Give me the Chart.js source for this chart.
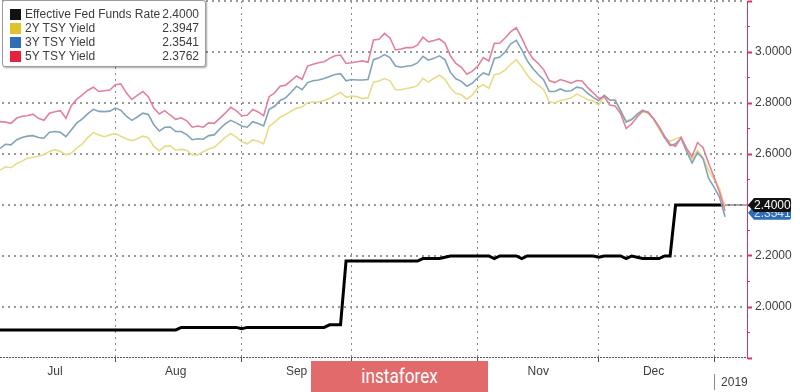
<!DOCTYPE html>
<html>
<head>
<meta charset="utf-8">
<script src="https://cdn.jsdelivr.net/npm/chart.js@4.4.1/dist/chart.umd.min.js"></script>
<style>
  html, body { margin: 0; padding: 0; background: #fff; }
  #wrap { position: relative; width: 800px; height: 392px; overflow: hidden; }
  #chart { position: absolute; left: 0; top: 0; }
  #legend {
    position: absolute; left: 2px; top: 0; width: 202px; padding: 6px 0 3px;
    background: #fff; border: 1px solid #9c9c9c; border-radius: 3px;
    box-shadow: 1px 1px 2px rgba(0,0,0,.35);
    font: 12px "Liberation Sans", Arial, sans-serif; color: #3c3c3c;
  }
  .row { display: flex; align-items: center; height: 14px; padding: 0 6px 0 7px; }
  .sw { width: 11px; height: 11px; margin-right: 4px; }
  .name { flex: 1; white-space: nowrap; }
  #mark {
    position: absolute; left: 311px; top: 361px; width: 177px; height: 31px;
    background: #e26a6a; color: #fff; text-align: center;
    font: 20px Roboto, sans-serif; line-height: 30px;
  }
  #mark span { display: inline-block; transform: scaleX(0.86); }
</style>
</head>
<body>
<div id="wrap">
  <canvas id="chart" width="800" height="392"></canvas>
  <div id="legend"></div>
  <div id="mark"><span>instaforex</span></div>
</div>
<script>
const months = ['Jul', 'Aug', 'Sep', 'Oct', 'Nov', 'Dec'];
const yearLabel = '2019';
const seriesNames = ['Effective Fed Funds Rate', '2Y TSY Yield', '3Y TSY Yield', '5Y TSY Yield'];
const swatchColors = ['#111111', '#e2c22a', '#2f6db5', '#e4233f'];
const lineColors = ['#000000', '#e6dc8a', '#84a2b8', '#e2819b'];
const yMin = 1.8, yMax = 3.2;
const yGridValues = [2.0, 2.2, 2.4, 2.6, 2.8, 3.0, 3.2];
const yLabelled = [2.0, 2.2, 2.4, 2.6, 2.8, 3.0];

// one value per weekday starting 2018-07-03
const fedFunds = [
  1.91, 1.91, 1.91, 1.91, 1.91, 1.91, 1.91, 1.91, 1.91, 1.91,
  1.91, 1.91, 1.91, 1.91, 1.91, 1.91, 1.91, 1.91, 1.91, 1.91,
  1.91, 1.91, 1.91, 1.91, 1.91, 1.91, 1.91, 1.91, 1.91, 1.91,
  1.91, 1.91, 1.91, 1.92, 1.92, 1.92, 1.92, 1.92, 1.92, 1.92,
  1.92, 1.92, 1.92, 1.92, 1.915, 1.92, 1.92, 1.92, 1.92, 1.92,
  1.92, 1.92, 1.92, 1.92, 1.92, 1.92, 1.92, 1.92, 1.92, 1.92,
  1.93, 1.93, 1.93, 2.18, 2.18, 2.18, 2.18, 2.18, 2.18, 2.18,
  2.18, 2.18, 2.18, 2.18, 2.18, 2.18, 2.18, 2.19, 2.19, 2.19,
  2.19, 2.195, 2.20, 2.20, 2.20, 2.20, 2.20, 2.20, 2.20, 2.20,
  2.19, 2.20, 2.20, 2.20, 2.20, 2.19, 2.20, 2.20, 2.20, 2.20,
  2.20, 2.20, 2.20, 2.20, 2.20, 2.20, 2.20, 2.20, 2.20, 2.195,
  2.20, 2.20, 2.20, 2.20, 2.19, 2.20, 2.195, 2.19, 2.19, 2.19,
  2.19, 2.20, 2.20, 2.40, 2.40, 2.40, 2.40, 2.40, 2.40, 2.40,
  2.40, 2.40, 2.40
];
const tsy2y = [
  2.537, 2.550, 2.546, 2.562, 2.572, 2.583, 2.587, 2.591, 2.598, 2.610,
  2.617, 2.610, 2.597, 2.604, 2.624, 2.640, 2.665, 2.684, 2.675, 2.668,
  2.675, 2.680, 2.670, 2.660, 2.652, 2.660, 2.670, 2.664, 2.630, 2.612,
  2.630, 2.632, 2.615, 2.618, 2.615, 2.596, 2.596, 2.609, 2.620, 2.626,
  2.645, 2.665, 2.680, 2.667, 2.648, 2.640, 2.655, 2.650, 2.640, 2.708,
  2.725, 2.744, 2.755, 2.768, 2.780, 2.784, 2.802, 2.804, 2.804, 2.810,
  2.818, 2.830, 2.842, 2.823, 2.827, 2.825, 2.818, 2.820, 2.882, 2.886,
  2.896, 2.887, 2.852, 2.852, 2.857, 2.861, 2.868, 2.897, 2.882, 2.897,
  2.909, 2.893, 2.860, 2.838, 2.832, 2.815, 2.831, 2.860, 2.872, 2.858,
  2.911, 2.916, 2.930, 2.952, 2.970, 2.942, 2.910, 2.885, 2.870, 2.852,
  2.805, 2.800, 2.810, 2.814, 2.820, 2.835, 2.825, 2.813, 2.808, 2.792,
  2.824, 2.812, 2.814, 2.768, 2.730, 2.736, 2.752, 2.767, 2.760, 2.736,
  2.697, 2.662, 2.650, 2.660, 2.666, 2.622, 2.580, 2.614, 2.585, 2.537,
  2.500, 2.464, 2.3947
];
const tsy3y = [
  2.622, 2.638, 2.636, 2.655, 2.665, 2.670, 2.672, 2.665, 2.662, 2.685,
  2.688, 2.685, 2.668, 2.695, 2.722, 2.738, 2.758, 2.775, 2.767, 2.766,
  2.768, 2.780, 2.772, 2.748, 2.732, 2.745, 2.760, 2.755, 2.715, 2.690,
  2.705, 2.706, 2.688, 2.688, 2.676, 2.656, 2.660, 2.658, 2.672, 2.675,
  2.698, 2.718, 2.732, 2.722, 2.710, 2.705, 2.727, 2.720, 2.710, 2.775,
  2.787, 2.810, 2.820, 2.842, 2.866, 2.852, 2.880, 2.887, 2.890, 2.896,
  2.904, 2.912, 2.915, 2.887, 2.892, 2.890, 2.890, 2.892, 2.970, 2.977,
  2.990, 2.978, 2.945, 2.940, 2.944, 2.947, 2.957, 2.983, 2.968, 2.975,
  2.985, 2.970, 2.920, 2.895, 2.885, 2.866, 2.878, 2.900, 2.918, 2.910,
  2.975, 2.980, 3.001, 3.032, 3.046, 3.008, 2.965, 2.935, 2.912, 2.890,
  2.845, 2.845, 2.855, 2.846, 2.848, 2.862, 2.858, 2.838, 2.822, 2.809,
  2.830, 2.812, 2.810, 2.770, 2.725, 2.735, 2.756, 2.772, 2.762, 2.738,
  2.705, 2.664, 2.633, 2.640, 2.662, 2.610, 2.565, 2.605, 2.582, 2.505,
  2.470, 2.430, 2.3541
];
const tsy5y = [
  2.727, 2.725, 2.720, 2.740, 2.748, 2.750, 2.756, 2.740, 2.732, 2.760,
  2.766, 2.770, 2.740, 2.790, 2.815, 2.832, 2.850, 2.862, 2.845, 2.848,
  2.851, 2.872, 2.875, 2.840, 2.814, 2.830, 2.845, 2.825, 2.780, 2.757,
  2.770, 2.752, 2.736, 2.742, 2.730, 2.705, 2.710, 2.705, 2.722, 2.720,
  2.740, 2.760, 2.783, 2.770, 2.750, 2.752, 2.775, 2.765, 2.750, 2.825,
  2.840, 2.866, 2.870, 2.888, 2.906, 2.893, 2.945, 2.952, 2.958, 2.962,
  2.975, 2.985, 2.988, 2.955, 2.958, 2.962, 2.965, 2.960, 3.047, 3.050,
  3.073, 3.055, 3.008, 3.012, 3.017, 3.017, 3.027, 3.058, 3.040, 3.045,
  3.051, 3.035, 2.985, 2.955, 2.940, 2.913, 2.925, 2.945, 2.978, 2.965,
  3.034, 3.035, 3.056, 3.080, 3.095, 3.054, 3.008, 2.975, 2.955, 2.930,
  2.888, 2.880, 2.892, 2.885, 2.878, 2.888, 2.886, 2.860, 2.840, 2.818,
  2.825, 2.792, 2.788, 2.758, 2.700, 2.718, 2.745, 2.768, 2.765, 2.738,
  2.706, 2.670, 2.638, 2.630, 2.665, 2.622, 2.590, 2.645, 2.625, 2.565,
  2.510, 2.450, 2.3762
];
const series = [fedFunds, tsy2y, tsy3y, tsy5y];

// weekday calendar for the x axis, a few days past the data
const days = [];
for (let d = new Date(Date.UTC(2018, 6, 3)); d <= new Date(Date.UTC(2019, 0, 9)); d.setUTCDate(d.getUTCDate() + 1)) {
  const wd = d.getUTCDay();
  if (wd !== 0 && wd !== 6) days.push(d.toISOString().slice(0, 10));
}
const monthStarts = [];
days.forEach((d, i) => { if (i > 0 && d.slice(5, 7) !== days[i - 1].slice(5, 7)) monthStarts.push(i); });
const yearIdx = monthStarts[monthStarts.length - 1];
const monthLabelAt = {};
[0].concat(monthStarts).slice(0, months.length).forEach((s, k) => {
  const e = [0].concat(monthStarts)[k + 1];
  monthLabelAt[Math.floor((s + e) / 2)] = months[k];
});

// legend
const legend = document.getElementById('legend');
seriesNames.forEach((n, k) => {
  const last = series[k][series[k].length - 1];
  legend.insertAdjacentHTML('beforeend',
    `<div class="row"><span class="sw" style="background:${swatchColors[k]}"></span><span class="name">${n}</span><span>${last.toFixed(4)}</span></div>`);
});

const red = '#d8335f';
const dotGray = '#8a8a8a';
const font = { family: '"Liberation Sans", Arial, sans-serif', size: 12 };

// dotted horizontal guides at the major y ticks, drawn as small dots
const hGrid = {
  id: 'hGrid',
  beforeDatasetsDraw(chart) {
    const { ctx, chartArea, scales: { y } } = chart;
    ctx.save();
    ctx.fillStyle = '#999';
    yGridValues.forEach(v => {
      const py = Math.round(y.getPixelForValue(v)) - 1;
      for (let px = chartArea.left + 2; px < chartArea.right - 1; px += 6) {
        ctx.fillRect(px, py, 2, 2);
      }
    });
    const pb = Math.round(y.getPixelForValue(yMin)) - 1;
    ctx.fillStyle = '#555';
    for (let px = chartArea.left; px < chartArea.right; px += 3) {
      ctx.fillRect(px, pb, 2, 1);
    }
    ctx.restore();
  }
};

function drawTag(ctx, x, y, bg, fg, text) {
  ctx.fillStyle = bg;
  ctx.beginPath();
  ctx.moveTo(x + 1, y);
  ctx.lineTo(x + 7, y - 7);
  ctx.lineTo(x + 42, y - 7);
  ctx.quadraticCurveTo(x + 44, y - 7, x + 44, y - 5);
  ctx.lineTo(x + 44, y + 5);
  ctx.quadraticCurveTo(x + 44, y + 7, x + 42, y + 7);
  ctx.lineTo(x + 7, y + 7);
  ctx.closePath();
  ctx.fill();
  ctx.fillStyle = fg;
  ctx.font = '12px "Liberation Sans", Arial, sans-serif';
  ctx.textAlign = 'left';
  ctx.textBaseline = 'middle';
  ctx.fillText(text, x + 7, y + 1);
}

const lastTags = {
  id: 'lastTags',
  afterDraw(chart) {
    const { ctx, chartArea, scales: { x, y } } = chart;
    const iLast = fedFunds.length - 1;
    const yF = y.getPixelForValue(fedFunds[iLast]);
    ctx.save();
    ctx.strokeStyle = '#555';
    ctx.lineWidth = 1;
    ctx.beginPath();
    ctx.moveTo(x.getPixelForValue(iLast), yF);
    ctx.lineTo(chartArea.right, yF);
    ctx.stroke();
    drawTag(ctx, chartArea.right, y.getPixelForValue(tsy3y[tsy3y.length - 1]) - 4, '#2f6cb6', '#d6e3f4', tsy3y[tsy3y.length - 1].toFixed(4));
    drawTag(ctx, chartArea.right, yF, '#111', '#fff', fedFunds[iLast].toFixed(4));
    const xj = x.getPixelForValue(yearIdx);
    ctx.strokeStyle = '#888';
    ctx.beginPath();
    ctx.moveTo(xj + 0.5, 374);
    ctx.lineTo(xj + 0.5, 390);
    ctx.stroke();
    ctx.fillStyle = '#3c3c3c';
    ctx.font = '12px "Liberation Sans", Arial, sans-serif';
    ctx.textAlign = 'left';
    ctx.textBaseline = 'middle';
    ctx.fillText(yearLabel, xj + 7, 383);
    ctx.restore();
  }
};

new Chart(document.getElementById('chart'), {
  type: 'line',
  data: {
    labels: days,
    datasets: series.map((s, k) => ({
      label: seriesNames[k],
      data: s,
      borderColor: lineColors[k],
      borderWidth: k === 0 ? 3 : 1.6,
      pointRadius: 0,
      tension: 0,
      order: k === 0 ? 10 : 4 - k
    }))
  },
  options: {
    responsive: false,
    animation: false,
    layout: { padding: { top: 1, left: 0, right: 0, bottom: 0 } },
    plugins: { legend: { display: false }, tooltip: { enabled: false } },
    scales: {
      x: {
        ticks: {
          autoSkip: false, maxRotation: 0, padding: 2, color: '#3c3c3c', font,
          callback: (v, i) => monthLabelAt[i] || ''
        },
        grid: {
          color: c => monthStarts.includes(c.index) ? dotGray : 'rgba(0,0,0,0)',
          tickColor: c => monthStarts.includes(c.index) ? '#555' : 'rgba(0,0,0,0)',
          tickLength: 4
        },
        border: { display: false, dash: [2, 4] },
        afterFit: s => { s.height = 34; s.paddingLeft = 0; s.paddingRight = 0; }
      },
      yMinor: {
        position: 'right',
        weight: 0,
        min: yMin,
        max: yMax,
        ticks: { stepSize: 0.1, display: false },
        grid: { drawOnChartArea: false, tickColor: red, tickLength: 3, lineWidth: 1 },
        border: { display: false },
        afterFit: s => { s.width = 0; s.paddingTop = 0; s.paddingBottom = 0; }
      },
      y: {
        position: 'right',
        weight: 1,
        min: yMin,
        max: yMax,
        ticks: {
          stepSize: 0.2, autoSkip: false, padding: 3, color: '#3c3c3c', font,
          callback: v => yLabelled.some(t => Math.abs(t - v) < 1e-6) ? v.toFixed(4) : ''
        },
        grid: {
          drawOnChartArea: false,
          tickColor: red,
          tickWidth: 2,
          tickLength: 5
        },
        border: { color: red, width: 1 },
        afterFit: s => { s.width = 53; s.paddingTop = 0; s.paddingBottom = 0; }
      }
    }
  },
  plugins: [hGrid, lastTags]
});
</script>
</body>
</html>
